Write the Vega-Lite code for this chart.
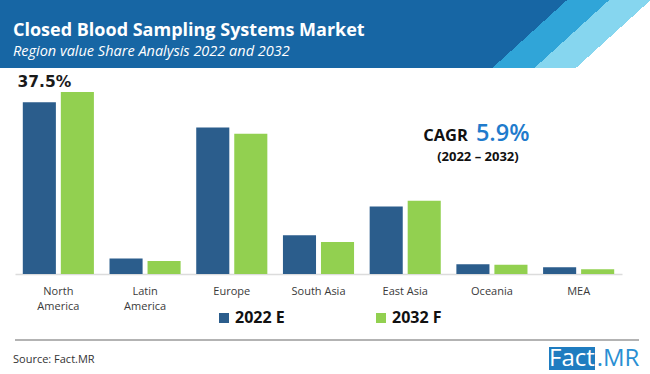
{
  "$schema": "https://vega.github.io/schema/vega-lite/v6.json",
  "padding": 0,
  "background": "#ffffff",
  "spacing": 0,
  "bounds": "flush",
  "config": {"view": {"stroke": null}, "font": "Open Sans"},
  "vconcat": [
    {
      "width": 650,
      "height": 68,
      "data": {"values": [{"part": "banner"}]},
      "title": {
        "text": "Closed Blood Sampling Systems Market",
        "subtitle": "Region value Share Analysis 2022 and 2032",
        "anchor": "start",
        "orient": "top",
        "frame": "group",
        "offset": -58,
        "dx": 13,
        "color": "#ffffff",
        "subtitleColor": "#ffffff",
        "font": "Open Sans",
        "fontSize": 18,
        "fontWeight": "bold",
        "subtitleFont": "Open Sans",
        "subtitleFontSize": 14.5,
        "subtitleFontStyle": "italic",
        "subtitlePadding": 5
      },
      "mark": {
        "type": "rect",
        "fill": {
          "gradient": "linear",
          "x1": 0, "y1": 0, "x2": 1, "y2": 0.115,
          "stops": [
            {"offset": 0, "color": "#1766a4"},
            {"offset": 0.861, "color": "#1766a4"},
            {"offset": 0.861, "color": "#30a5d8"},
            {"offset": 0.925, "color": "#30a5d8"},
            {"offset": 0.925, "color": "#86d6ef"},
            {"offset": 0.988, "color": "#86d6ef"},
            {"offset": 0.988, "color": "#ffffff"},
            {"offset": 1, "color": "#ffffff"}
          ]
        }
      },
      "encoding": {}
    },
    {
      "width": 650,
      "height": 206,
      "data": {"values": [
        {"region": "North America", "year": "2022 E", "share": 35.4},
        {"region": "North America", "year": "2032 F", "share": 37.5},
        {"region": "Latin America", "year": "2022 E", "share": 3.2},
        {"region": "Latin America", "year": "2032 F", "share": 2.7},
        {"region": "Europe", "year": "2022 E", "share": 30.2},
        {"region": "Europe", "year": "2032 F", "share": 28.9},
        {"region": "South Asia", "year": "2022 E", "share": 8.0},
        {"region": "South Asia", "year": "2032 F", "share": 6.6},
        {"region": "East Asia", "year": "2022 E", "share": 13.9},
        {"region": "East Asia", "year": "2032 F", "share": 15.1},
        {"region": "Oceania", "year": "2022 E", "share": 2.0},
        {"region": "Oceania", "year": "2032 F", "share": 1.9},
        {"region": "MEA", "year": "2022 E", "share": 1.4},
        {"region": "MEA", "year": "2032 F", "share": 1.0}
      ]},
      "encoding": {
        "x": {
          "field": "region",
          "type": "nominal",
          "sort": ["North America", "Latin America", "Europe", "South Asia", "East Asia", "Oceania", "MEA"],
          "scale": {"range": [15, 622], "paddingInner": 0.18, "paddingOuter": 0.09},
          "axis": {
            "title": null,
            "labelAngle": 0,
            "ticks": false,
            "tickSize": 0,
            "labelPadding": 11,
            "labelFont": "Open Sans",
            "labelFontSize": 11,
            "labelColor": "#3a3a3a",
            "labelLineHeight": 15,
            "labelOverlap": false,
            "domainColor": "#dcdcdc",
            "domainWidth": 1.5,
            "labelExpr": "datum.value == 'North America' ? ['North', 'America'] : datum.value == 'Latin America' ? ['Latin', 'America'] : datum.value"
          }
        }
      },
      "layer": [
        {
          "mark": {"type": "bar"},
          "encoding": {
            "xOffset": {"field": "year", "type": "nominal", "scale": {"paddingInner": 0.13, "paddingOuter": 0}},
            "y": {"field": "share", "type": "quantitative", "scale": {"domain": [0, 42.45], "nice": false}, "axis": null},
            "color": {
              "field": "year",
              "type": "nominal",
              "scale": {"domain": ["2022 E", "2032 F"], "range": ["#2b5d8c", "#92d050"]},
              "legend": {
                "orient": "none",
                "legendX": 216,
                "legendY": 310,
                "direction": "horizontal",
                "title": null,
                "padding": 0,
                "symbolType": "square",
                "symbolSize": 100,
                "symbolStrokeWidth": 0,
                "labelFont": "Open Sans",
                "labelFontSize": 16,
                "labelFontWeight": "bold",
                "labelColor": "#111111",
                "labelOffset": 3,
                "columnPadding": 88
              }
            }
          }
        },
        {
          "transform": [{"filter": "datum.region == 'North America' && datum.year == '2032 F'"}],
          "mark": {"type": "text", "font": "DejaVu Sans", "fontWeight": "bold", "fontSize": 15.5, "color": "#1a1a1a", "baseline": "alphabetic", "align": "center", "dx": -14, "dy": -5, "text": {"expr": "format(datum.share, '.1f') + '%'"}},
          "encoding": {
            "y": {"field": "share", "type": "quantitative"}
          }
        },
        {
          "data": {"values": [{"t": "CAGR"}]},
          "mark": {"type": "text", "font": "Open Sans", "fontWeight": "bold", "fontSize": 16.5, "color": "#111111", "align": "right", "baseline": "alphabetic", "dx": -24},
          "encoding": {
            "x": {"datum": "Oceania"},
            "y": {"datum": 27.4, "type": "quantitative"},
            "text": {"field": "t"}
          }
        },
        {
          "data": {"values": [{"t": "5.9%"}]},
          "mark": {"type": "text", "font": "Open Sans", "fontWeight": 600, "fontSize": 23.5, "color": "#1f7bcc", "align": "left", "baseline": "alphabetic", "dx": -16},
          "encoding": {
            "x": {"datum": "Oceania"},
            "y": {"datum": 27.4, "type": "quantitative"},
            "text": {"field": "t"}
          }
        },
        {
          "data": {"values": [{"t": "(2022  – 2032)"}]},
          "mark": {"type": "text", "font": "Open Sans", "fontWeight": "bold", "fontSize": 13, "color": "#111111", "align": "center", "baseline": "alphabetic", "dx": -14},
          "encoding": {
            "x": {"datum": "Oceania"},
            "y": {"datum": 23.2, "type": "quantitative"},
            "text": {"field": "t"}
          }
        }
      ]
    },
    {
      "width": 650,
      "height": 100,
      "title": {
        "text": "Source: Fact.MR",
        "orient": "bottom",
        "anchor": "start",
        "frame": "group",
        "offset": -20,
        "dx": 13,
        "font": "Open Sans",
        "fontSize": 11,
        "fontWeight": "normal",
        "color": "#333333"
      },
      "layer": [
        {
          "data": {"values": [{"word": "Fact"}, {"word": ".MR"}]},
          "encoding": {
            "x": {"field": "word", "type": "nominal", "sort": null, "scale": {"domain": ["Fact", ".MR"], "range": [549, 641], "paddingInner": 0, "paddingOuter": 0}, "axis": null},
            "y": {"datum": "logo", "type": "nominal", "scale": {"type": "band", "range": [73, 96], "paddingInner": 0, "paddingOuter": 0}, "axis": null}
          },
          "layer": [
            {
              "transform": [{"filter": "datum.word == 'Fact'"}],
              "mark": {"type": "rect", "fill": "#1f7cc0"}
            },
            {
              "mark": {"type": "text", "font": "Open Sans", "fontSize": 24, "baseline": "middle", "align": "center"},
              "encoding": {
                "text": {"field": "word"},
                "color": {"condition": {"test": "datum.word == 'Fact'", "value": "#ffffff"}, "value": "#2a8fd3"},
                "fontWeight": {"condition": {"test": "datum.word == 'Fact'", "value": "normal"}, "value": "bold"}
              }
            }
          ]
        },
        {
          "data": {"values": [{"part": "divider"}]},
          "mark": {"type": "rule", "color": "#9a9a9a", "strokeWidth": 1.5},
          "encoding": {
            "x": {"datum": 0, "type": "quantitative", "scale": {"domain": [0, 1], "range": [15, 639]}, "axis": null},
            "x2": {"datum": 1},
            "y": {"datum": 0, "type": "quantitative", "scale": {"domain": [0, 1], "range": [66, 100]}, "axis": null}
          }
        }
      ],
      "resolve": {"scale": {"x": "independent", "y": "independent"}}
    }
  ]
}
